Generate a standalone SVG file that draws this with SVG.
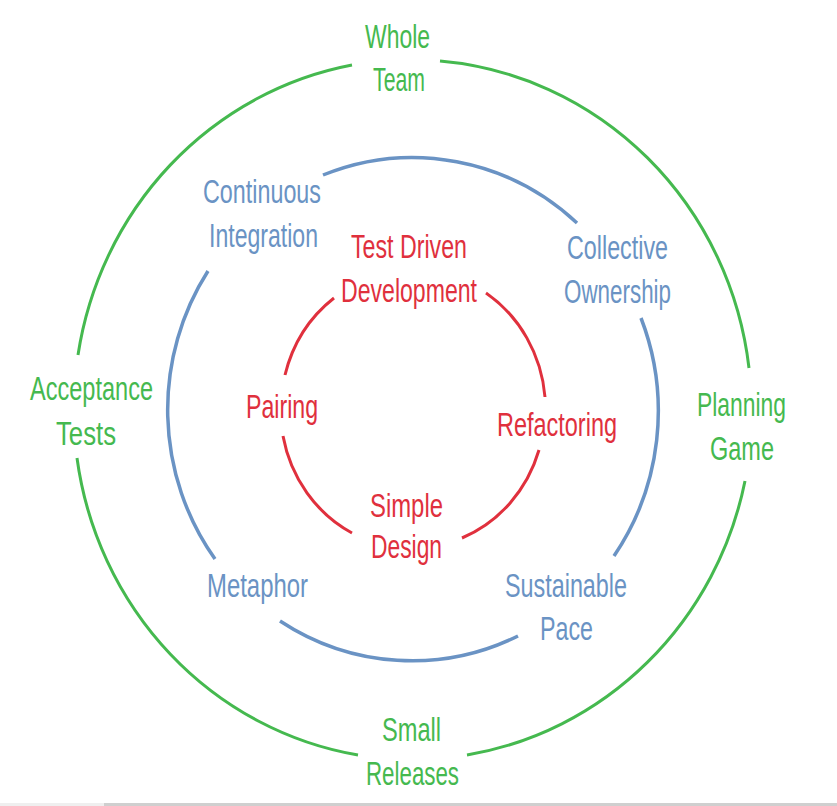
<svg xmlns="http://www.w3.org/2000/svg" width="837" height="806" viewBox="0 0 837 806">
<style>
text{font-family:"Liberation Sans",Arial,sans-serif;font-size:34px;}
.g{fill:#45b94f;}
.b{fill:#6a93c4;}
.r{fill:#e0303d;}
.arc{fill:none;stroke-linecap:butt;}
.ga{stroke:#45b94f;stroke-width:3;}
.ba{stroke:#6a93c4;stroke-width:3.5;}
.ra{stroke:#e0303d;stroke-width:3;}
</style>
<rect x="0" y="0" width="837" height="806" fill="#ffffff"/>
<g id="connectors">
<path class="arc ga" d="M 440 61 A 340 350 0 0 1 749 368"/>
<path class="arc ga" d="M 745 481 A 340 350 0 0 1 467 755"/>
<path class="arc ga" d="M 358 755 A 340 350 0 0 1 77 458"/>
<path class="arc ga" d="M 78 355 A 340 350 0 0 1 352 65"/>
<path class="arc ba" d="M 323 175 A 245 252.5 0 0 1 577 223"/>
<path class="arc ba" d="M 641 318 A 245 252.5 0 0 1 614 556"/>
<path class="arc ba" d="M 518 636 A 245 252.5 0 0 1 280 621"/>
<path class="arc ba" d="M 215 559 A 245 252.5 0 0 1 208 271"/>
<path class="arc ra" d="M 486 293 A 132 139 0 0 1 545 397"/>
<path class="arc ra" d="M 539 450 A 132 139 0 0 1 462 538"/>
<path class="arc ra" d="M 352 533 A 132 139 0 0 1 283 436"/>
<path class="arc ra" d="M 285 375 A 132 139 0 0 1 334 298"/>
</g>
<g id="whole-team"><text class="g" x="365" y="48" textLength="65" lengthAdjust="spacingAndGlyphs">Whole</text><text class="g" x="373" y="91" textLength="52" lengthAdjust="spacingAndGlyphs">Team</text></g>
<g id="continuous-integration"><text class="b" x="203" y="203" textLength="118" lengthAdjust="spacingAndGlyphs">Continuous</text><text class="b" x="209" y="247" textLength="109" lengthAdjust="spacingAndGlyphs">Integration</text></g>
<g id="test-driven-development"><text class="r" x="351" y="258" textLength="116" lengthAdjust="spacingAndGlyphs">Test Driven</text><text class="r" x="341" y="302" textLength="136" lengthAdjust="spacingAndGlyphs">Development</text></g>
<g id="collective-ownership"><text class="b" x="567" y="259" textLength="101" lengthAdjust="spacingAndGlyphs">Collective</text><text class="b" x="564" y="303" textLength="107" lengthAdjust="spacingAndGlyphs">Ownership</text></g>
<g id="acceptance-tests"><text class="g" x="30" y="400" textLength="123" lengthAdjust="spacingAndGlyphs">Acceptance</text><text class="g" x="56" y="445" textLength="60" lengthAdjust="spacingAndGlyphs">Tests</text></g>
<g id="pairing"><text class="r" x="246" y="418" textLength="72" lengthAdjust="spacingAndGlyphs">Pairing</text></g>
<g id="refactoring"><text class="r" x="497" y="436" textLength="120" lengthAdjust="spacingAndGlyphs">Refactoring</text></g>
<g id="planning-game"><text class="g" x="697" y="416" textLength="89" lengthAdjust="spacingAndGlyphs">Planning</text><text class="g" x="710" y="460" textLength="64" lengthAdjust="spacingAndGlyphs">Game</text></g>
<g id="simple-design"><text class="r" x="370" y="517" textLength="73" lengthAdjust="spacingAndGlyphs">Simple</text><text class="r" x="371" y="558" textLength="71" lengthAdjust="spacingAndGlyphs">Design</text></g>
<g id="metaphor"><text class="b" x="207" y="597" textLength="101" lengthAdjust="spacingAndGlyphs">Metaphor</text></g>
<g id="sustainable-pace"><text class="b" x="505" y="597" textLength="122" lengthAdjust="spacingAndGlyphs">Sustainable</text><text class="b" x="540" y="640" textLength="53" lengthAdjust="spacingAndGlyphs">Pace</text></g>
<g id="small-releases"><text class="g" x="382" y="741" textLength="59" lengthAdjust="spacingAndGlyphs">Small</text><text class="g" x="366" y="785" textLength="93" lengthAdjust="spacingAndGlyphs">Releases</text></g>
<rect x="0" y="803" width="104" height="3" fill="#efefef"/>
<rect x="104" y="803" width="733" height="3" fill="#cfcfcf"/>
</svg>
